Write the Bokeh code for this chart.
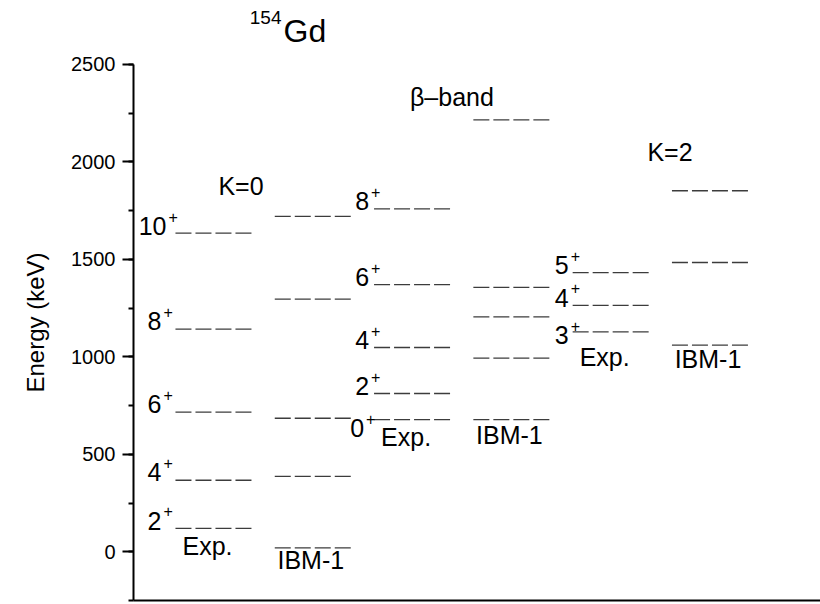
from bokeh.plotting import figure
from bokeh.models import Range1d, SingleIntervalTicker, FixedTicker, Title
from bokeh.core.properties import value
from bokeh.embed import file_html
from bokeh.resources import INLINE

# ---------------- data (keV) ----------------
gsb_spins = ["2", "4", "6", "8", "10"]
gsb_exp = [120, 367, 716, 1142, 1635]
gsb_ibm = [20, 387, 685, 1296, 1721]

beta_spins = ["0", "2", "4", "6", "8"]
beta_exp = [678, 812, 1048, 1370, 1759]
beta_ibm = [678, 993, 1205, 1356, 2216]

gamma_spins = ["3", "4", "5"]
gamma_exp = [1128, 1264, 1432]
gamma_ibm = [1060, 1484, 1852]

band_names = ["K=0", "β–band", "K=2"]
column_names = ["Exp.", "IBM-1", "Exp.", "IBM-1", "Exp.", "IBM-1"]
y_ticks = [0, 500, 1000, 1500, 2000, 2500]

# ---------------- layout / style ----------------
FONT = value("Liberation Sans")
HALF = 0.383            # half width of a level line (column units)
LINE_COLOR = "#3c3c3c"
LBL = 25                # label font size (px)
SUP = 16                # superscript font size (px)
BASE_FIX = 0.35         # baseline correction (fraction of font size)
# band label anchors (column units, keV)
band_pos_x = [1.277, 3.401, 5.597]
band_pos_y = [1833, 2290, 2007]
title_x, title_y = 1.705, 2614

p = figure(width=820, height=604,
           x_range=Range1d(0.1944, 7.113), y_range=Range1d(-250, 2828),
           output_backend="svg", toolbar_location=None,
           min_border_left=133, min_border_right=0,
           min_border_top=0, min_border_bottom=4)
p.outline_line_color = None
p.grid.visible = False
p.background_fill_color = "white"
p.border_fill_color = "white"

# y axis
ya = p.yaxis[0]
ya.bounds = (-250, 2500)
ya.ticker = SingleIntervalTicker(interval=500, num_minor_ticks=2)
ya.axis_line_width = 2
ya.major_tick_line_width = 2
ya.minor_tick_line_width = 2
ya.major_tick_out = 11
ya.major_tick_in = 0
ya.minor_tick_out = 5
ya.minor_tick_in = 0
ya.major_label_standoff = 7
ya.major_label_text_font = "Liberation Sans"
ya.major_label_text_font_size = "20px"
ya.major_label_text_color = "black"

# y-axis title as a side title (allows fine placement)
p.add_layout(Title(text="Energy (keV)", align="left", offset=208, standoff=39,
                   text_font="Liberation Sans", text_font_size="24px",
                   text_font_style="normal", text_color="black"), "left")

# x axis: plain line
xa = p.xaxis[0]
xa.ticker = FixedTicker(ticks=[])
xa.major_label_text_font_size = "0px"
xa.major_tick_out = 0
xa.major_tick_in = 0
xa.minor_tick_out = 0
xa.minor_tick_in = 0
xa.major_label_standoff = 0
xa.axis_line_width = 2

columns = [gsb_exp, gsb_ibm, beta_exp, beta_ibm, gamma_exp, gamma_ibm]

# level lines
for i, levels in enumerate(columns):
    c = i + 1
    p.segment(x0=[c - HALF] * len(levels), y0=levels,
              x1=[c + HALF] * len(levels), y1=levels,
              line_color=LINE_COLOR, line_width=1.3, line_dash="16 4")

# spin labels on experimental columns
spin_sets = [(1, gsb_spins, gsb_exp, 14), (3, beta_spins, beta_exp, 5),
             (5, gamma_spins, gamma_exp, 4)]
# (gap px, baseline below line px) for individual labels
label_tweak = {(1, "10"): (9, 2), (3, "0"): (10, 17), (5, "3"): (4, 12)}
for c, spins, levels, gap in spin_sets:
    for s, e in zip(spins, levels):
        g, dy = label_tweak.get((c, s), (gap, 1))
        p.text(x=[c - HALF], y=[e], text=[s], x_offset=-g,
               y_offset=dy - BASE_FIX * LBL,
               text_align="right", text_baseline="alphabetic",
               text_font=FONT, text_font_size=f"{LBL}px", text_color="black")
        p.text(x=[c - HALF], y=[e], text=["+"], x_offset=-g + 2,
               y_offset=dy - 12.3 - BASE_FIX * SUP,
               text_align="left", text_baseline="alphabetic",
               text_font=FONT, text_font_size=f"{SUP}px", text_color="black")

# column names below the lowest level
name_dy = [4, -2, 3, 1, 11, 0]
for i, (levels, name) in enumerate(zip(columns, column_names)):
    c = i + 1
    p.text(x=[c], y=[min(levels)], text=[name],
           x_offset=-6 if name == "Exp." else -2, y_offset=name_dy[i],
           text_align="center", text_baseline="top",
           text_font=FONT, text_font_size=f"{LBL}px", text_color="black")

# band names
p.text(x=band_pos_x, y=band_pos_y, text=band_names, y_offset=-BASE_FIX * LBL,
       text_align="center", text_baseline="alphabetic",
       text_font=FONT, text_font_size=f"{LBL}px", text_color="black")

# title 154Gd
p.text(x=[title_x], y=[title_y], text=["Gd"], y_offset=-BASE_FIX * 32,
       text_align="left", text_baseline="alphabetic", text_font=FONT,
       text_font_size="32px", text_color="black")
p.text(x=[title_x], y=[title_y], text=["154"], x_offset=-2,
       y_offset=-18 - BASE_FIX * 19,
       text_align="right", text_baseline="alphabetic", text_font=FONT,
       text_font_size="19px", text_color="black")

open("out.html", "w").write(file_html(p, INLINE))
